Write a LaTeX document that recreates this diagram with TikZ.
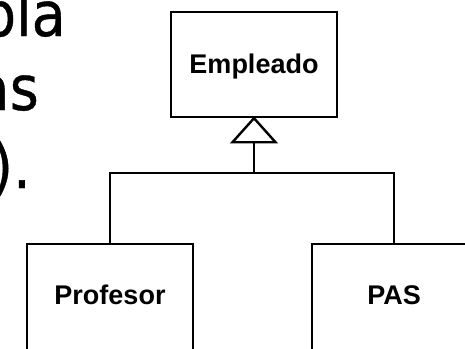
\documentclass[tikz,border=0pt]{standalone}
\usepackage{fontspec}
\setmainfont{DejaVu Sans}
\newfontfamily\arialfont{Liberation Sans}
\newfontfamily\bigfont[FakeStretch=0.9,FakeBold=0.6]{DejaVu Sans}
\begin{document}
\begin{tikzpicture}[x=1pt,y=-1pt,line width=2.4pt,
  clsbox/.style={draw,line width=2.4pt,inner sep=0pt},
  clstext/.style={font=\arialfont\bfseries\fontsize{27}{27}\selectfont,inner sep=0pt,text height=19pt,text depth=0pt},
  big/.style={font=\bigfont\fontsize{62}{62}\selectfont,inner sep=0pt,anchor=base east},
  conn/.style={line width=2.4pt}]
\useasboundingbox (0,0) rectangle (465,348);
\clip (0,0) rectangle (465,348);
% left partial text
\node[big] (t1) at (67,36) {bla};
\node[big] (t2) at (40,110) {as};
\node[big] (t3) at (32,188) {).};
% Empleado
\node[clsbox,minimum width=166pt,minimum height=105pt] (emp) at (254,64.5) {};
\node[clstext] (empt) at (254,64) {Empleado};
% Profesor
\node[clsbox,minimum width=166pt,minimum height=200pt,anchor=north] (prof) at (110,243) {};
\node[clstext] (proft) at (110,295) {Profesor};
% PAS
\node[clsbox,minimum width=164pt,minimum height=200pt,anchor=north] (pas) at (394,243) {};
\node[clstext] (past) at (394,295) {PAS};
% connectors
\coordinate (j) at (254,173);
\coordinate (tb) at (254,141);
\draw[conn] (prof.north) |- (j) -| (pas.north);
\draw[conn] (j) -- (tb);
\draw[conn,fill=white,line join=miter] (emp.south) -- ++(21.5,24) -- ++(-43,0) -- cycle;
\end{tikzpicture}
\end{document}
